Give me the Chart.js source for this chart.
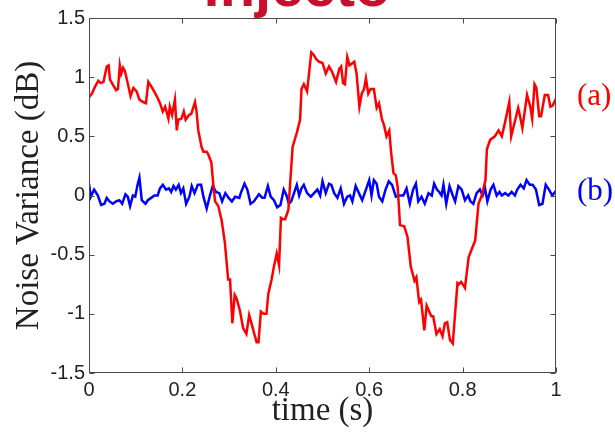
<!DOCTYPE html>
<html>
<head>
<meta charset="utf-8">
<script src="https://cdn.jsdelivr.net/npm/chart.js@4.4.1/dist/chart.umd.min.js"></script>
<style>
  html, body { margin: 0; padding: 0; background: #fff; }
  #wrap { width: 615px; height: 432px; position: relative; }
</style>
</head>
<body>
<div id="wrap"><canvas id="c" width="615" height="432"></canvas></div>
<script>
// Noise variance traces, time in seconds, variance in dB
const timeA = [0.000,0.006,0.013,0.020,0.025,0.031,0.038,0.042,0.045,0.052,0.058,0.062,0.066,0.069,0.073,0.077,0.084,0.089,0.095,0.102,0.108,0.116,0.122,0.127,0.132,0.138,0.145,0.152,0.158,0.163,0.166,0.170,0.173,0.178,0.184,0.188,0.191,0.198,0.203,0.207,0.214,0.219,0.227,0.230,0.234,0.241,0.245,0.252,0.255,0.262,0.266,0.270,0.277,0.284,0.291,0.298,0.302,0.307,0.312,0.316,0.323,0.330,0.337,0.343,0.348,0.354,0.359,0.363,0.368,0.374,0.380,0.384,0.391,0.396,0.402,0.407,0.411,0.415,0.420,0.427,0.430,0.436,0.445,0.452,0.455,0.460,0.467,0.476,0.481,0.487,0.493,0.500,0.507,0.514,0.520,0.529,0.536,0.540,0.544,0.548,0.553,0.558,0.568,0.573,0.579,0.584,0.589,0.593,0.598,0.603,0.610,0.616,0.621,0.627,0.632,0.637,0.643,0.647,0.652,0.657,0.661,0.666,0.675,0.682,0.689,0.697,0.701,0.707,0.711,0.718,0.723,0.733,0.737,0.744,0.751,0.757,0.762,0.767,0.773,0.779,0.789,0.792,0.797,0.805,0.813,0.820,0.827,0.834,0.841,0.849,0.852,0.859,0.869,0.877,0.884,0.891,0.900,0.904,0.911,0.919,0.923,0.928,0.938,0.945,0.949,0.954,0.958,0.964,0.968,0.976,0.983,0.988,0.993,1.000];
const noiseA = [0.83,0.86,0.92,0.97,0.95,0.96,1.09,1.10,0.98,0.93,0.89,0.90,1.10,1.03,1.08,1.05,0.93,0.84,0.91,0.88,0.81,0.79,0.78,0.96,0.93,0.89,0.84,0.78,0.71,0.75,0.71,0.65,0.75,0.68,0.81,0.55,0.64,0.65,0.71,0.64,0.68,0.69,0.79,0.72,0.55,0.41,0.37,0.37,0.35,0.28,0.10,-0.05,-0.09,-0.21,-0.40,-0.71,-0.71,-1.08,-0.84,-0.87,-0.97,-1.12,-1.17,-1.01,-1.08,-1.17,-1.24,-1.24,-0.98,-1.00,-1.00,-0.83,-0.71,-0.60,-0.49,-0.59,-0.19,-0.20,-0.20,-0.12,0.06,0.41,0.53,0.64,0.90,0.94,0.88,1.21,1.19,1.15,1.13,1.12,1.03,1.09,1.05,0.96,1.07,1.09,0.95,0.94,1.17,1.10,1.13,1.03,0.75,0.86,0.90,0.99,0.86,0.90,0.90,0.74,0.78,0.65,0.59,0.50,0.55,0.36,0.19,0.17,0.07,-0.25,-0.26,-0.35,-0.60,-0.72,-0.69,-0.90,-0.88,-1.14,-0.93,-1.02,-1.02,-1.17,-1.13,-1.19,-1.08,-1.07,-1.22,-1.25,-0.74,-0.75,-0.73,-0.78,-0.52,-0.45,-0.38,-0.07,0.00,0.13,0.39,0.47,0.50,0.55,0.50,0.62,0.79,0.50,0.61,0.74,0.67,0.57,0.85,0.75,0.65,0.94,0.91,0.67,0.67,0.85,0.85,0.75,0.76,0.82];

const timeB = [0.000,0.004,0.011,0.019,0.026,0.033,0.038,0.044,0.051,0.058,0.065,0.071,0.078,0.083,0.088,0.094,0.099,0.104,0.108,0.113,0.121,0.126,0.133,0.140,0.147,0.152,0.158,0.165,0.171,0.176,0.181,0.186,0.192,0.197,0.202,0.208,0.215,0.220,0.226,0.233,0.240,0.245,0.252,0.259,0.265,0.272,0.279,0.285,0.292,0.299,0.306,0.313,0.322,0.325,0.333,0.339,0.346,0.353,0.364,0.371,0.376,0.383,0.389,0.396,0.403,0.410,0.417,0.423,0.428,0.433,0.439,0.445,0.450,0.455,0.460,0.467,0.475,0.482,0.489,0.495,0.500,0.507,0.514,0.519,0.525,0.532,0.539,0.546,0.553,0.559,0.564,0.571,0.578,0.585,0.593,0.600,0.605,0.610,0.616,0.621,0.628,0.635,0.642,0.649,0.657,0.664,0.673,0.680,0.687,0.694,0.700,0.705,0.712,0.719,0.727,0.734,0.739,0.745,0.750,0.755,0.759,0.765,0.772,0.779,0.784,0.791,0.798,0.805,0.812,0.817,0.823,0.830,0.837,0.843,0.848,0.853,0.860,0.866,0.873,0.879,0.884,0.891,0.898,0.905,0.912,0.917,0.924,0.931,0.937,0.944,0.950,0.957,0.964,0.971,0.978,0.985,0.992,1.000];
const noiseB = [0.10,-0.01,0.05,0.00,-0.08,-0.07,-0.02,-0.05,-0.07,-0.05,-0.04,-0.07,0.01,-0.01,-0.09,0.00,-0.01,0.09,0.15,-0.04,-0.07,-0.04,-0.02,0.00,0.00,0.06,0.09,0.05,0.06,0.03,0.08,0.05,0.09,0.02,0.06,-0.07,-0.01,0.08,0.02,0.09,0.09,-0.01,-0.11,0.00,0.08,0.03,0.02,-0.05,0.02,-0.02,-0.05,-0.01,-0.02,0.02,0.10,0.05,-0.07,-0.05,0.01,-0.02,-0.02,0.08,-0.01,-0.04,-0.10,-0.08,0.05,0.00,-0.07,-0.05,0.02,0.09,0.00,0.06,0.09,0.02,-0.01,0.02,0.05,0.00,0.12,0.02,0.10,0.09,0.02,-0.02,0.06,-0.07,-0.01,0.00,-0.05,0.08,0.02,-0.04,0.05,0.13,0.00,0.13,0.10,-0.01,-0.05,0.05,0.12,0.09,-0.01,0.00,0.00,0.06,-0.07,0.05,0.10,-0.05,-0.01,-0.07,0.02,0.00,0.10,0.05,0.03,0.00,0.09,-0.07,0.08,0.00,-0.05,0.08,0.05,-0.04,0.00,-0.05,-0.07,0.02,0.05,0.00,0.06,-0.05,0.05,0.09,0.00,0.03,0.00,0.02,0.00,0.03,0.00,0.05,0.09,0.06,0.13,0.09,0.09,0.05,-0.08,-0.07,0.09,0.05,0.00,0.04];

const xTicks = [0, 0.2, 0.4, 0.6, 0.8, 1];
const yTicks = [-1.5, -1, -0.5, 0, 0.5, 1, 1.5];
const seriesNames = ['(a)', '(b)'];
const seriesTags = [0.83, 0.03];   // dB level where each series tag sits
const headline = 'injecto';

const RED = '#ff0000';
const BLUE = '#0000ff';
const AXIS = '#4a4a4a';
const sans = 'Liberation Sans, Arial, sans-serif';
const serif = 'Liberation Serif, Times New Roman, serif';

const toPoints = (xs, ys) => xs.map((t, i) => ({ x: t, y: ys[i] }));

// Boxed axes with inward ticks on every side, plus series tags and headline
const boxPlugin = {
  id: 'box',
  afterDraw(chart) {
    const { ctx, chartArea: a, scales: { x, y } } = chart;
    ctx.save();
    ctx.strokeStyle = AXIS;
    ctx.lineWidth = 1;
    const L = Math.round(a.left) + 0.5, R = Math.round(a.right) - 0.5;
    const T = Math.round(a.top) + 0.5, B = Math.round(a.bottom) - 0.5;
    ctx.strokeRect(L, T, R - L, B - T);
    const len = 5;
    ctx.beginPath();
    xTicks.forEach(v => {
      const px = Math.round(x.getPixelForValue(v)) + 0.5;
      ctx.moveTo(px, B); ctx.lineTo(px, B - len);
      ctx.moveTo(px, T); ctx.lineTo(px, T + len);
    });
    yTicks.forEach(v => {
      const py = Math.round(y.getPixelForValue(v)) + 0.5;
      ctx.moveTo(L, py); ctx.lineTo(L + len, py);
      ctx.moveTo(R, py); ctx.lineTo(R - len, py);
    });
    ctx.stroke();

    // series tags to the right of the box
    ctx.font = '31px ' + serif;
    ctx.textAlign = 'left';
    ctx.textBaseline = 'middle';
    [RED, BLUE].forEach((c, i) => {
      ctx.fillStyle = c;
      ctx.fillText(seriesNames[i], a.right + 21, y.getPixelForValue(seriesTags[i]));
    });

    // headline, mostly above the top edge
    ctx.font = 'bold 58px ' + sans;
    ctx.fillStyle = '#c8102e';
    ctx.textAlign = 'center';
    ctx.textBaseline = 'alphabetic';
    ctx.fillText(headline, 297, 6);
    ctx.restore();
  }
};

new Chart(document.getElementById('c'), {
  type: 'line',
  data: {
    datasets: [
      { label: seriesNames[0], data: toPoints(timeA, noiseA), borderColor: RED, borderWidth: 2.5,
        pointRadius: 0, tension: 0, fill: false },
      { label: seriesNames[1], data: toPoints(timeB, noiseB), borderColor: BLUE, borderWidth: 2.5,
        pointRadius: 0, tension: 0, fill: false }
    ]
  },
  options: {
    responsive: false,
    animation: false,
    events: [],
    layout: { padding: { top: 18, right: 59, bottom: 0, left: 0 } },
    plugins: { legend: { display: false }, tooltip: { enabled: false } },
    scales: {
      x: {
        type: 'linear', min: 0, max: 1,
        afterBuildTicks: s => { s.ticks = xTicks.map(v => ({ value: v })); },
        afterFit: s => { s.height = 59; },
        grid: { display: false, drawTicks: false },
        border: { display: false },
        ticks: { font: { family: sans, size: 20 }, color: '#222', padding: 5,
                 maxRotation: 0, autoSkip: false, callback: v => String(v) },
        title: { display: true, text: 'time (s)', color: '#222',
                 font: { family: serif, size: 33 }, padding: { top: 0, bottom: 1 } }
      },
      y: {
        type: 'linear', min: -1.5, max: 1.5,
        afterBuildTicks: s => { s.ticks = yTicks.map(v => ({ value: v })); },
        afterFit: s => { s.width = 89; },
        grid: { display: false, drawTicks: false },
        border: { display: false },
        ticks: { font: { family: sans, size: 20 }, color: '#222', padding: 4,
                 autoSkip: false, callback: v => String(v) },
        title: { display: true, text: 'Noise Variance (dB)', color: '#222',
                 font: { family: serif, size: 33 }, padding: { top: 10, bottom: 0 } }
      }
    }
  },
  plugins: [boxPlugin]
});
</script>
</body>
</html>
